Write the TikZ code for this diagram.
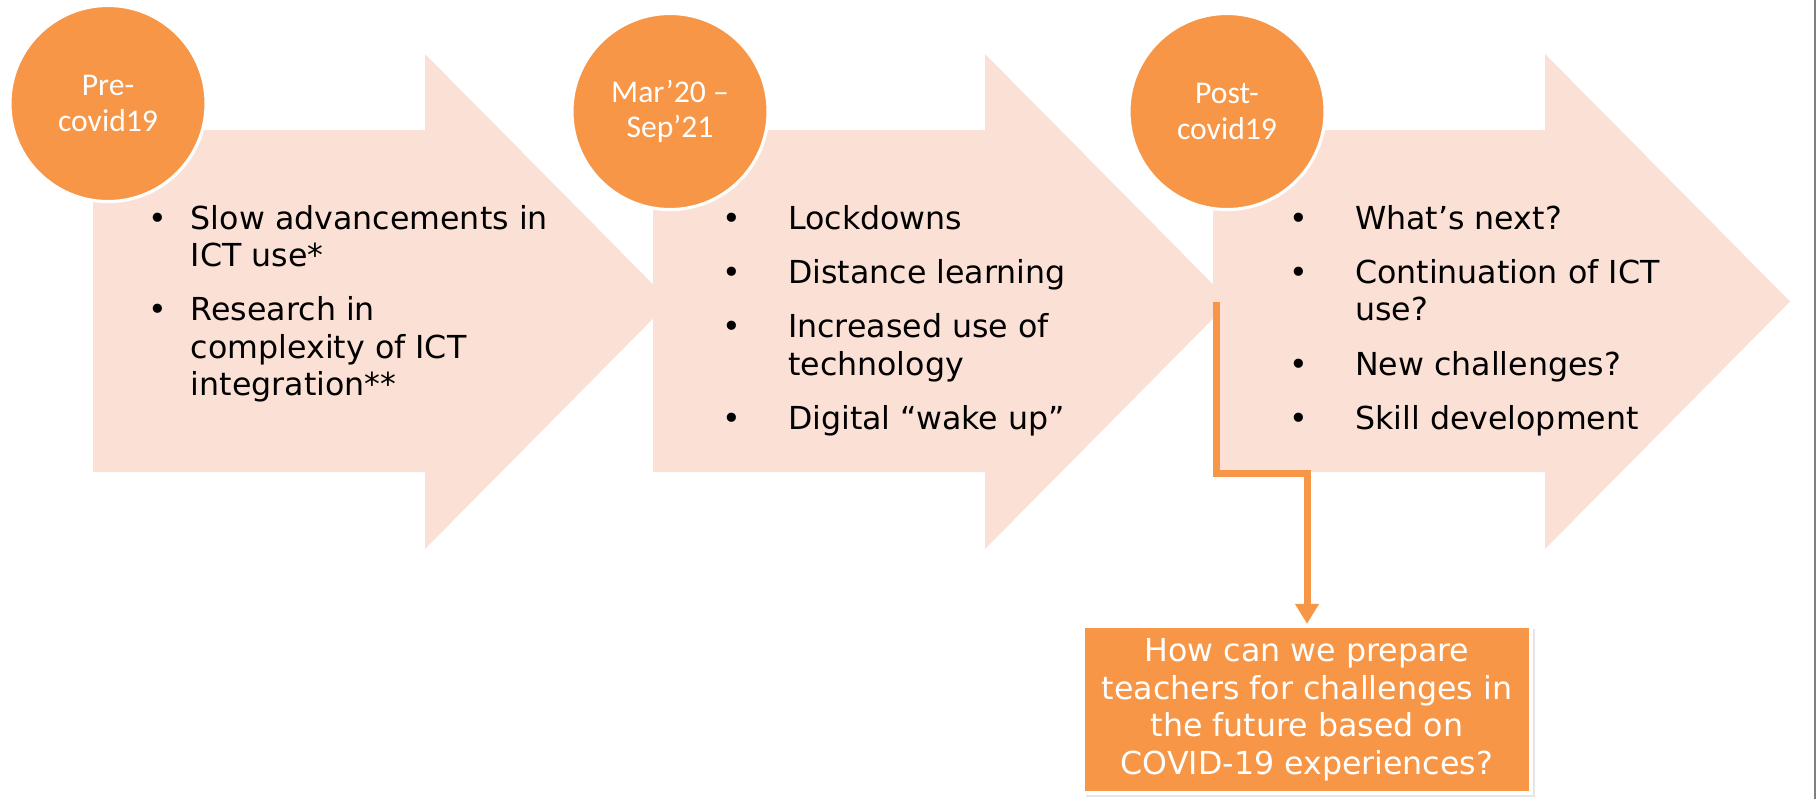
\documentclass[tikz,border=0pt]{standalone}
\usepackage{fontspec}
\setmainfont{DejaVu Sans}
\newfontfamily\calib{Carlito}
\usepackage{tikz}
\usetikzlibrary{arrows.meta,shadows}

\definecolor{accent}{RGB}{247,150,70}
\definecolor{peach}{RGB}{251,224,214}

\tikzset{
  phase/.style={circle, minimum size=1.96cm, inner sep=0pt, fill=accent, draw=white,
    line width=0.9pt, text=white, align=center, font=\calib\fontsize{9}{10}\selectfont},
  items/.style={anchor=base west, inner sep=0pt, font=\fontsize{9}{10.67}\selectfont},
  link/.style={draw=accent, line width=2pt, -{Triangle[width=6.5pt,length=5.7pt]}},
  question/.style={fill=accent, draw=white, line width=1.2pt, text=white, align=center,
    minimum width=4.48cm, minimum height=1.67cm, inner sep=0pt,
    font=\fontsize{9}{10.67}\selectfont,
    drop shadow={opacity=0.2, shadow xshift=1pt, shadow yshift=-1pt}}
}

\begin{document}
\begin{tikzpicture}[x=0.01cm, y=-0.01cm]
\useasboundingbox (0,0) rectangle (1816,799);
\foreach \x in {93,653,1213}
  \fill[peach] (\x,130) -- (\x+332,130) -- (\x+332,54) -- (\x+577,301.5)
    -- (\x+332,549) -- (\x+332,472) -- (\x,472) -- cycle;

\node[phase] (pre) at (108,103.5) {Pre-\\covid19};
\node[phase] (during) at (670,111.5) {Mar’20 –\\Sep’21};
\node[phase] (post) at (1227,111.5) {Post-\\covid19};

\node[items] (before) at (148,229) {\begin{tabular}[t]{@{}p{12pt}@{}l@{}}
\textbullet & Slow advancements in\\
 & ICT use*\\[4.8pt]
\textbullet & Research in\\
 & complexity of ICT\\
 & integration**
\end{tabular}};
\node[items] (pandemic) at (722,229) {\begin{tabular}[t]{@{}p{18.6pt}@{}l@{}}
\textbullet & Lockdowns\\[4.8pt]
\textbullet & Distance learning\\[4.8pt]
\textbullet & Increased use of\\
 & technology\\[4.8pt]
\textbullet & Digital “wake up”
\end{tabular}};
\node[items] (after) at (1289,229) {\begin{tabular}[t]{@{}p{18.6pt}@{}l@{}}
\textbullet & What’s next?\\[4.8pt]
\textbullet & Continuation of ICT\\
 & use?\\[4.8pt]
\textbullet & New challenges?\\[4.8pt]
\textbullet & Skill development
\end{tabular}};

\node[question] (ask) at (1307,709.5) {How can we prepare\\teachers for challenges in\\the future based on\\COVID-19 experiences?};

\coordinate (drop) at (1216,302);
\draw[link] (drop) -- ++(0,171) -| (ask.north);

\draw[gray, line width=0.5pt] (1815,0) -- (1815,799);
\end{tikzpicture}
\end{document}
